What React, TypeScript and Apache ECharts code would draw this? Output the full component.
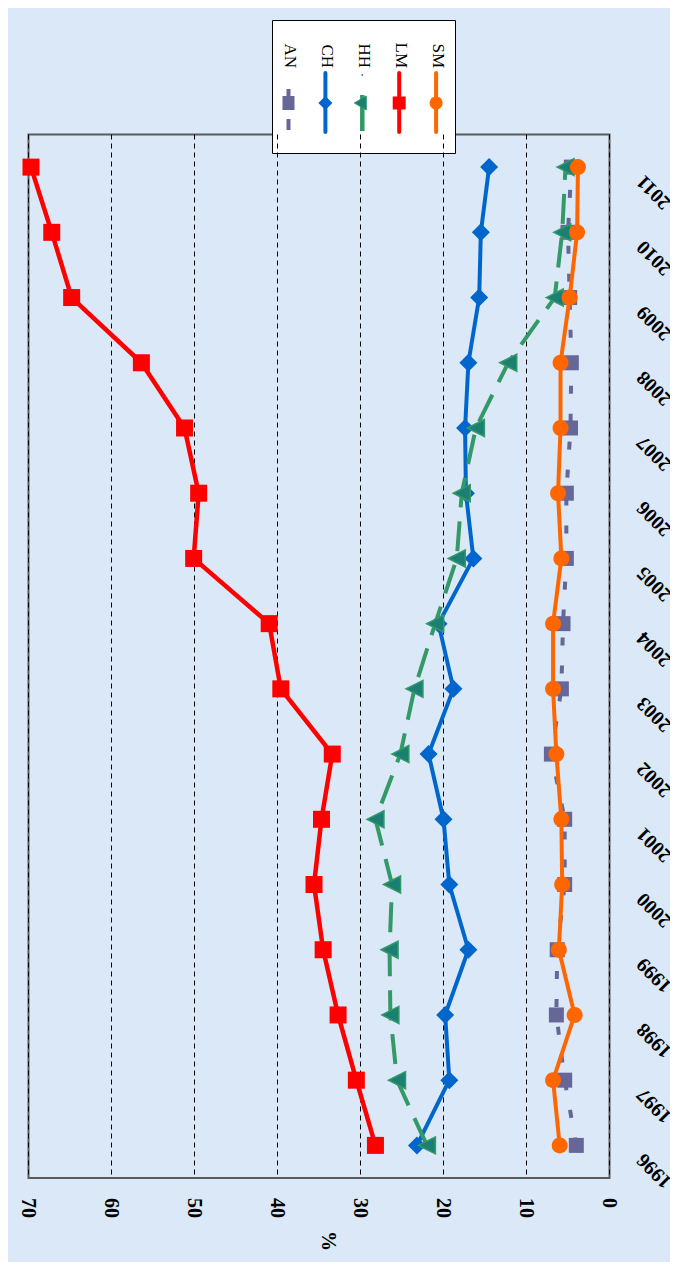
import React, { useEffect, useRef } from 'react';
import * as echarts from 'echarts';

const years = ['1996', '1997', '1998', '1999', '2000', '2001', '2002', '2003', '2004', '2005', '2006', '2007', '2008', '2009', '2010', '2011'];
const seriesNames = ['AN', 'CH', 'HH', 'LM', 'SM'];
const anValues = [4.0, 5.4, 6.4, 6.3, 5.4, 5.4, 7.0, 5.8, 5.6, 5.2, 5.2, 4.7, 4.6, 4.8, 5.0, 4.6];
const chValues = [23.2, 19.3, 19.8, 17.0, 19.3, 20.0, 21.8, 18.8, 20.6, 16.4, 17.3, 17.4, 17.0, 15.7, 15.5, 14.5];
const hhValues = [22.0, 25.6, 26.4, 26.5, 26.2, 28.2, 25.2, 23.5, 21.0, 18.4, 17.8, 16.1, 12.2, 6.6, 5.7, 5.3];
const lmValues = [28.2, 30.5, 32.7, 34.5, 35.6, 34.7, 33.4, 39.6, 41.0, 50.1, 49.5, 51.2, 56.4, 64.8, 67.2, 69.7];
const smValues = [6.0, 6.8, 4.2, 6.1, 5.7, 5.8, 6.4, 6.8, 6.8, 5.8, 6.2, 5.9, 5.9, 4.8, 3.9, 3.8];
const valueAxisMin = 0;
const valueAxisMax = 70;
const valueAxisStep = 10;
const axisName = '%';

const COLORS = ['#666699', '#0066CC', '#339966', '#FF0000', '#FF6600'];
const FONT = "'Liberation Serif', 'Times New Roman', serif";

function buildLegend() {
  const children: any[] = [];
  children.push({
    type: 'rect',
    shape: { x: 264.5, y: 12.5, width: 183, height: 133 },
    style: { fill: '#ffffff', stroke: '#000000', lineWidth: 1 },
  });
  const my = 95;
  seriesNames.forEach((name, i) => {
    const cx = 280.5 + i * 36.9;
    const color = COLORS[i];
    if (i === 0) {
      children.push({ type: 'line', shape: { x1: cx, y1: 81, x2: cx, y2: 89 }, style: { stroke: color, lineWidth: 4 } });
      children.push({ type: 'line', shape: { x1: cx, y1: 111, x2: cx, y2: 122 }, style: { stroke: color, lineWidth: 4 } });
      children.push({ type: 'rect', shape: { x: cx - 6, y: my - 7, width: 12, height: 14 }, style: { fill: color } });
    } else if (i === 2) {
      children.push({ type: 'line', shape: { x1: cx, y1: 66, x2: cx, y2: 68 }, style: { stroke: color, lineWidth: 1.5 } });
      children.push({ type: 'line', shape: { x1: cx, y1: 87, x2: cx, y2: 123 }, style: { stroke: color, lineWidth: 4.5 } });
      children.push({
        type: 'polygon',
        shape: { points: [[cx - 8, my], [cx + 4, my - 7], [cx + 4, my + 7]] },
        style: { fill: '#1b7f73', stroke: color, lineWidth: 1 },
      });
    } else {
      children.push({ type: 'line', shape: { x1: cx, y1: 65, x2: cx, y2: 124 }, style: { stroke: color, lineWidth: 4, lineCap: 'round' } });
      if (i === 1) {
        children.push({
          type: 'polygon',
          shape: { points: [[cx, my - 7], [cx + 7, my], [cx, my + 7], [cx - 7, my]] },
          style: { fill: color },
        });
      } else if (i === 3) {
        children.push({ type: 'rect', shape: { x: cx - 6.5, y: my - 6.5, width: 13, height: 13 }, style: { fill: color } });
      } else {
        children.push({ type: 'circle', shape: { cx, cy: my, r: 6.5 }, style: { fill: color } });
      }
    }
    children.push({
      type: 'text',
      x: cx + 2,
      y: 60,
      rotation: -Math.PI / 2,
      style: {
        text: name,
        fill: '#000000',
        font: `17px ${FONT}`,
        textAlign: 'right',
        textVerticalAlign: 'middle',
      },
    });
  });
  return [{ type: 'group', z: 100, children }];
}

export default function App() {
  const ref = useRef<HTMLDivElement>(null);
  useEffect(() => {
    if (!ref.current) return;
    const chart = echarts.init(ref.current, null, { renderer: 'svg' });
    const valueSets = [anValues, chValues, hhValues, lmValues, smValues];
    const symbols = ['rect', 'diamond', 'triangle', 'rect', 'circle'];
    const sizes = [15, 18, 17, 17, 16];
    const dashes: any[] = [[8, 20], 'solid', [30, 14], 'solid', 'solid'];
    const series = seriesNames.map((name, i) => ({
      name,
      type: 'line',
      data: valueSets[i].map((v, j) => [v, years[j]]),
      symbol: symbols[i],
      symbolSize: sizes[i],
      symbolRotate: i === 2 ? 90 : 0,
      showSymbol: true,
      lineStyle: { color: COLORS[i], width: i === 3 ? 4.5 : 4, type: dashes[i], cap: 'butt' },
      itemStyle: i === 2
        ? { color: '#1b7f73', borderColor: '#339966', borderWidth: 1.5 }
        : { color: COLORS[i] },
      z: 2 + i,
      emphasis: { disabled: true },
    }));
    chart.setOption({
      animation: false,
      backgroundColor: 'transparent',
      grid: {
        left: 20.5,
        right: 68.5,
        top: 126.5,
        bottom: 92,
        outerBoundsMode: 'none',
        containLabel: false,
        show: true,
        borderColor: '#5a5a5a',
        borderWidth: 2,
        backgroundColor: 'transparent',
      },
      xAxis: {
        type: 'value',
        inverse: true,
        position: 'bottom',
        min: valueAxisMin,
        max: valueAxisMax,
        interval: valueAxisStep,
        name: axisName,
        nameLocation: 'middle',
        nameGap: 53,
        nameRotate: -90,
        nameTextStyle: { color: '#000', fontFamily: FONT, fontWeight: 'bold', fontSize: 20, verticalAlign: 'bottom' },
        axisLine: { show: false },
        axisTick: { show: false },
        axisLabel: {
          rotate: -90,
          margin: 20,
          align: 'left',
          verticalAlign: 'middle',
          color: '#000',
          fontFamily: FONT,
          fontWeight: 'bold',
          fontSize: 20,
        },
        splitLine: { show: true, lineStyle: { color: '#000', width: 1, type: [5, 4] } },
      },
      yAxis: {
        type: 'category',
        data: years,
        position: 'right',
        boundaryGap: true,
        axisLine: { show: false },
        axisTick: { show: false },
        splitLine: { show: false },
        axisLabel: {
          interval: 0,
          rotate: 135,
          margin: 18,
          padding: [0, 17, 0, 0],
          align: 'right',
          verticalAlign: 'middle',
          color: '#000',
          fontFamily: FONT,
          fontWeight: 'bold',
          fontSize: 20,
        },
      },
      legend: { show: false },
      series,
      graphic: buildLegend(),
    });
    return () => chart.dispose();
  }, []);
  return (
    <div style={{ position: 'relative', width: 662, height: 1254, background: '#dae8f7' }}>
      <div ref={ref} style={{ position: 'absolute', left: 0, top: 0, width: 670, height: 1262 }} />
    </div>
  );
}
